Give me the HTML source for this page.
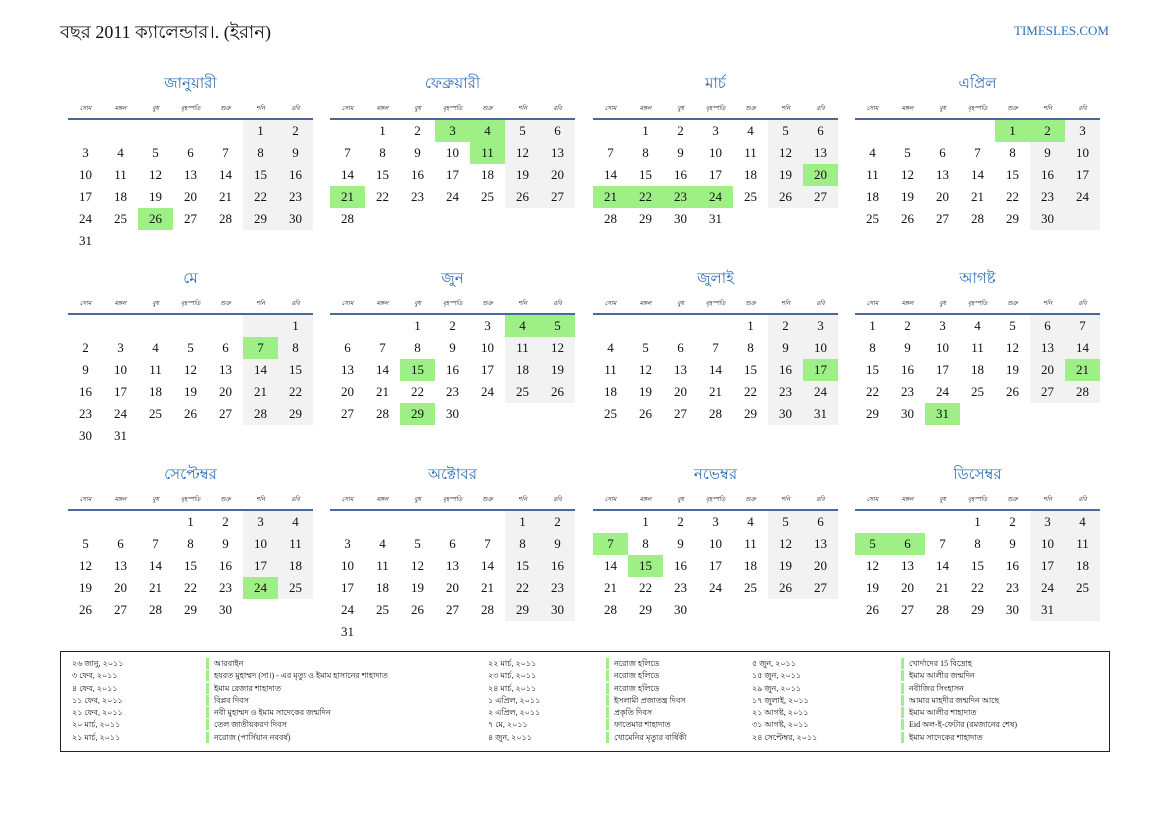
<!DOCTYPE html>
<html><head><meta charset="utf-8"><style>
*{margin:0;padding:0;box-sizing:border-box}
body{width:1169px;height:827px;background:#fff;position:relative;font-family:"Liberation Serif",serif;color:#111;overflow:hidden}
.hd{position:absolute;left:60px;top:20px;font-size:18px;line-height:24px}
.site{position:absolute;right:60px;top:23px;font-size:13px;color:#2a6fb8}
.m{position:absolute;width:245px}
.t{height:20px;line-height:20px;text-align:center;color:#2a6fb8;font-size:15px;font-family:"Liberation Serif","Noto Sans CJK SC",serif}
.h{display:grid;grid-template-columns:repeat(7,35px);margin-top:8px;height:14px;line-height:14px;font-size:6px;text-align:center}
.ln{height:2px;background:#4a6898;margin-top:2px}
.g{display:grid;grid-template-columns:repeat(7,35px);grid-auto-rows:22px;line-height:22px;font-size:13px;text-align:center}
.g i{font-style:normal}
.g .w{background:#f2f2f2}
.g .x{background:#9def86}
.lg{position:absolute;left:60px;top:651px;width:1050px;height:101px;border:1.5px solid #222}
.c{position:absolute;top:6px;font-size:8px;line-height:12.3px;white-space:nowrap}
.b div{border-left:3px solid #9def86;padding-left:5px;height:11px;line-height:11px;margin-bottom:1.3px}
</style></head><body>
<div class="hd">বছর 2011 ক্যালেন্ডার।. (ইরান)</div>
<div class="site">TIMESLES.COM</div>

<div class="m" style="left:68px;top:74px"><div class="t">জানুয়ারী</div><div class="h"><i>সোম</i><i>মঙ্গল</i><i>বুধ</i><i>বৃহস্পতি</i><i>শুক্র</i><i>শনি</i><i>রবি</i></div><div class="ln"></div><div class="g">
<i></i><i></i><i></i><i></i><i></i><i class="w">1</i><i class="w">2</i>
<i>3</i><i>4</i><i>5</i><i>6</i><i>7</i><i class="w">8</i><i class="w">9</i>
<i>10</i><i>11</i><i>12</i><i>13</i><i>14</i><i class="w">15</i><i class="w">16</i>
<i>17</i><i>18</i><i>19</i><i>20</i><i>21</i><i class="w">22</i><i class="w">23</i>
<i>24</i><i>25</i><i class="x">26</i><i>27</i><i>28</i><i class="w">29</i><i class="w">30</i>
<i>31</i></div></div>

<div class="m" style="left:330px;top:74px"><div class="t">ফেব্রুয়ারী</div><div class="h"><i>সোম</i><i>মঙ্গল</i><i>বুধ</i><i>বৃহস্পতি</i><i>শুক্র</i><i>শনি</i><i>রবি</i></div><div class="ln"></div><div class="g">
<i></i><i>1</i><i>2</i><i class="x">3</i><i class="x">4</i><i class="w">5</i><i class="w">6</i>
<i>7</i><i>8</i><i>9</i><i>10</i><i class="x">11</i><i class="w">12</i><i class="w">13</i>
<i>14</i><i>15</i><i>16</i><i>17</i><i>18</i><i class="w">19</i><i class="w">20</i>
<i class="x">21</i><i>22</i><i>23</i><i>24</i><i>25</i><i class="w">26</i><i class="w">27</i>
<i>28</i></div></div>

<div class="m" style="left:593px;top:74px"><div class="t">মার্চ</div><div class="h"><i>সোম</i><i>মঙ্গল</i><i>বুধ</i><i>বৃহস্পতি</i><i>শুক্র</i><i>শনি</i><i>রবি</i></div><div class="ln"></div><div class="g">
<i></i><i>1</i><i>2</i><i>3</i><i>4</i><i class="w">5</i><i class="w">6</i>
<i>7</i><i>8</i><i>9</i><i>10</i><i>11</i><i class="w">12</i><i class="w">13</i>
<i>14</i><i>15</i><i>16</i><i>17</i><i>18</i><i class="w">19</i><i class="x">20</i>
<i class="x">21</i><i class="x">22</i><i class="x">23</i><i class="x">24</i><i>25</i><i class="w">26</i><i class="w">27</i>
<i>28</i><i>29</i><i>30</i><i>31</i></div></div>

<div class="m" style="left:855px;top:74px"><div class="t">এপ্রিল</div><div class="h"><i>সোম</i><i>মঙ্গল</i><i>বুধ</i><i>বৃহস্পতি</i><i>শুক্র</i><i>শনি</i><i>রবি</i></div><div class="ln"></div><div class="g">
<i></i><i></i><i></i><i></i><i class="x">1</i><i class="x">2</i><i class="w">3</i>
<i>4</i><i>5</i><i>6</i><i>7</i><i>8</i><i class="w">9</i><i class="w">10</i>
<i>11</i><i>12</i><i>13</i><i>14</i><i>15</i><i class="w">16</i><i class="w">17</i>
<i>18</i><i>19</i><i>20</i><i>21</i><i>22</i><i class="w">23</i><i class="w">24</i>
<i>25</i><i>26</i><i>27</i><i>28</i><i>29</i><i class="w">30</i><i class="w"></i></div></div>

<div class="m" style="left:68px;top:269px"><div class="t">মে</div><div class="h"><i>সোম</i><i>মঙ্গল</i><i>বুধ</i><i>বৃহস্পতি</i><i>শুক্র</i><i>শনি</i><i>রবি</i></div><div class="ln"></div><div class="g">
<i></i><i></i><i></i><i></i><i></i><i class="w"></i><i class="w">1</i>
<i>2</i><i>3</i><i>4</i><i>5</i><i>6</i><i class="x">7</i><i class="w">8</i>
<i>9</i><i>10</i><i>11</i><i>12</i><i>13</i><i class="w">14</i><i class="w">15</i>
<i>16</i><i>17</i><i>18</i><i>19</i><i>20</i><i class="w">21</i><i class="w">22</i>
<i>23</i><i>24</i><i>25</i><i>26</i><i>27</i><i class="w">28</i><i class="w">29</i>
<i>30</i><i>31</i></div></div>

<div class="m" style="left:330px;top:269px"><div class="t">জুন</div><div class="h"><i>সোম</i><i>মঙ্গল</i><i>বুধ</i><i>বৃহস্পতি</i><i>শুক্র</i><i>শনি</i><i>রবি</i></div><div class="ln"></div><div class="g">
<i></i><i></i><i>1</i><i>2</i><i>3</i><i class="x">4</i><i class="x">5</i>
<i>6</i><i>7</i><i>8</i><i>9</i><i>10</i><i class="w">11</i><i class="w">12</i>
<i>13</i><i>14</i><i class="x">15</i><i>16</i><i>17</i><i class="w">18</i><i class="w">19</i>
<i>20</i><i>21</i><i>22</i><i>23</i><i>24</i><i class="w">25</i><i class="w">26</i>
<i>27</i><i>28</i><i class="x">29</i><i>30</i></div></div>

<div class="m" style="left:593px;top:269px"><div class="t">জুলাই</div><div class="h"><i>সোম</i><i>মঙ্গল</i><i>বুধ</i><i>বৃহস্পতি</i><i>শুক্র</i><i>শনি</i><i>রবি</i></div><div class="ln"></div><div class="g">
<i></i><i></i><i></i><i></i><i>1</i><i class="w">2</i><i class="w">3</i>
<i>4</i><i>5</i><i>6</i><i>7</i><i>8</i><i class="w">9</i><i class="w">10</i>
<i>11</i><i>12</i><i>13</i><i>14</i><i>15</i><i class="w">16</i><i class="x">17</i>
<i>18</i><i>19</i><i>20</i><i>21</i><i>22</i><i class="w">23</i><i class="w">24</i>
<i>25</i><i>26</i><i>27</i><i>28</i><i>29</i><i class="w">30</i><i class="w">31</i></div></div>

<div class="m" style="left:855px;top:269px"><div class="t">আগষ্ট</div><div class="h"><i>সোম</i><i>মঙ্গল</i><i>বুধ</i><i>বৃহস্পতি</i><i>শুক্র</i><i>শনি</i><i>রবি</i></div><div class="ln"></div><div class="g">
<i>1</i><i>2</i><i>3</i><i>4</i><i>5</i><i class="w">6</i><i class="w">7</i>
<i>8</i><i>9</i><i>10</i><i>11</i><i>12</i><i class="w">13</i><i class="w">14</i>
<i>15</i><i>16</i><i>17</i><i>18</i><i>19</i><i class="w">20</i><i class="x">21</i>
<i>22</i><i>23</i><i>24</i><i>25</i><i>26</i><i class="w">27</i><i class="w">28</i>
<i>29</i><i>30</i><i class="x">31</i></div></div>

<div class="m" style="left:68px;top:465px"><div class="t">সেপ্টেম্বর</div><div class="h"><i>সোম</i><i>মঙ্গল</i><i>বুধ</i><i>বৃহস্পতি</i><i>শুক্র</i><i>শনি</i><i>রবি</i></div><div class="ln"></div><div class="g">
<i></i><i></i><i></i><i>1</i><i>2</i><i class="w">3</i><i class="w">4</i>
<i>5</i><i>6</i><i>7</i><i>8</i><i>9</i><i class="w">10</i><i class="w">11</i>
<i>12</i><i>13</i><i>14</i><i>15</i><i>16</i><i class="w">17</i><i class="w">18</i>
<i>19</i><i>20</i><i>21</i><i>22</i><i>23</i><i class="x">24</i><i class="w">25</i>
<i>26</i><i>27</i><i>28</i><i>29</i><i>30</i></div></div>

<div class="m" style="left:330px;top:465px"><div class="t">অক্টোবর</div><div class="h"><i>সোম</i><i>মঙ্গল</i><i>বুধ</i><i>বৃহস্পতি</i><i>শুক্র</i><i>শনি</i><i>রবি</i></div><div class="ln"></div><div class="g">
<i></i><i></i><i></i><i></i><i></i><i class="w">1</i><i class="w">2</i>
<i>3</i><i>4</i><i>5</i><i>6</i><i>7</i><i class="w">8</i><i class="w">9</i>
<i>10</i><i>11</i><i>12</i><i>13</i><i>14</i><i class="w">15</i><i class="w">16</i>
<i>17</i><i>18</i><i>19</i><i>20</i><i>21</i><i class="w">22</i><i class="w">23</i>
<i>24</i><i>25</i><i>26</i><i>27</i><i>28</i><i class="w">29</i><i class="w">30</i>
<i>31</i></div></div>

<div class="m" style="left:593px;top:465px"><div class="t">নভেম্বর</div><div class="h"><i>সোম</i><i>মঙ্গল</i><i>বুধ</i><i>বৃহস্পতি</i><i>শুক্র</i><i>শনি</i><i>রবি</i></div><div class="ln"></div><div class="g">
<i></i><i>1</i><i>2</i><i>3</i><i>4</i><i class="w">5</i><i class="w">6</i>
<i class="x">7</i><i>8</i><i>9</i><i>10</i><i>11</i><i class="w">12</i><i class="w">13</i>
<i>14</i><i class="x">15</i><i>16</i><i>17</i><i>18</i><i class="w">19</i><i class="w">20</i>
<i>21</i><i>22</i><i>23</i><i>24</i><i>25</i><i class="w">26</i><i class="w">27</i>
<i>28</i><i>29</i><i>30</i></div></div>

<div class="m" style="left:855px;top:465px"><div class="t">ডিসেম্বর</div><div class="h"><i>সোম</i><i>মঙ্গল</i><i>বুধ</i><i>বৃহস্পতি</i><i>শুক্র</i><i>শনি</i><i>রবি</i></div><div class="ln"></div><div class="g">
<i></i><i></i><i></i><i>1</i><i>2</i><i class="w">3</i><i class="w">4</i>
<i class="x">5</i><i class="x">6</i><i>7</i><i>8</i><i>9</i><i class="w">10</i><i class="w">11</i>
<i>12</i><i>13</i><i>14</i><i>15</i><i>16</i><i class="w">17</i><i class="w">18</i>
<i>19</i><i>20</i><i>21</i><i>22</i><i>23</i><i class="w">24</i><i class="w">25</i>
<i>26</i><i>27</i><i>28</i><i>29</i><i>30</i><i class="w">31</i><i class="w"></i></div></div>

<div class="lg">
<div class="c" style="left:11px">২৬ জানু, ২০১১<br>৩ ফেব, ২০১১<br>৪ ফেব, ২০১১<br>১১ ফেব, ২০১১<br>২১ ফেব, ২০১১<br>২০ মার্চ, ২০১১<br>২১ মার্চ, ২০১১</div>
<div class="c b" style="left:145px"><div>আরবাইন</div><div>হযরত মুহাম্মদ (সা।) - এর মৃত্যু ও ইমাম হাসানের শাহাদাত</div><div>ইমাম রেজার শাহাদাত</div><div>বিপ্লব দিবস</div><div>নবী মুহাম্মদ ও ইমাম সাদেকের জন্মদিন</div><div>তেল জাতীয়করণ দিবস</div><div>নরোজ (পার্সিয়ান নববর্ষ)</div></div>
<div class="c" style="left:427px">২২ মার্চ, ২০১১<br>২৩ মার্চ, ২০১১<br>২৪ মার্চ, ২০১১<br>১ এপ্রিল, ২০১১<br>২ এপ্রিল, ২০১১<br>৭ মে, ২০১১<br>৪ জুন, ২০১১</div>
<div class="c b" style="left:545px"><div>নরোজ হলিডে</div><div>নরোজ হলিডে</div><div>নরোজ হলিডে</div><div>ইসলামী প্রজাতন্ত্র দিবস</div><div>প্রকৃতি দিবস</div><div>ফাতেমার শাহাদাত</div><div>খোমেনির মৃত্যুর বার্ষিকী</div></div>
<div class="c" style="left:691px">৫ জুন, ২০১১<br>১৫ জুন, ২০১১<br>২৯ জুন, ২০১১<br>১৭ জুলাই, ২০১১<br>২১ আগষ্ট, ২০১১<br>৩১ আগষ্ট, ২০১১<br>২৪ সেপ্টেম্বর, ২০১১</div>
<div class="c b" style="left:840px"><div>খোর্দাদের 15 বিদ্রোহ</div><div>ইমাম আলীর জন্মদিন</div><div>নবীজির সিংহাসন</div><div>আমার মাহদীর জন্মদিন আছে</div><div>ইমাম আলীর শাহাদাত</div><div>Eid অল-ই-ফেটার (রমজানের শেষ)</div><div>ইমাম সাদেকের শাহাদাত</div></div>
</div>
</body></html>
